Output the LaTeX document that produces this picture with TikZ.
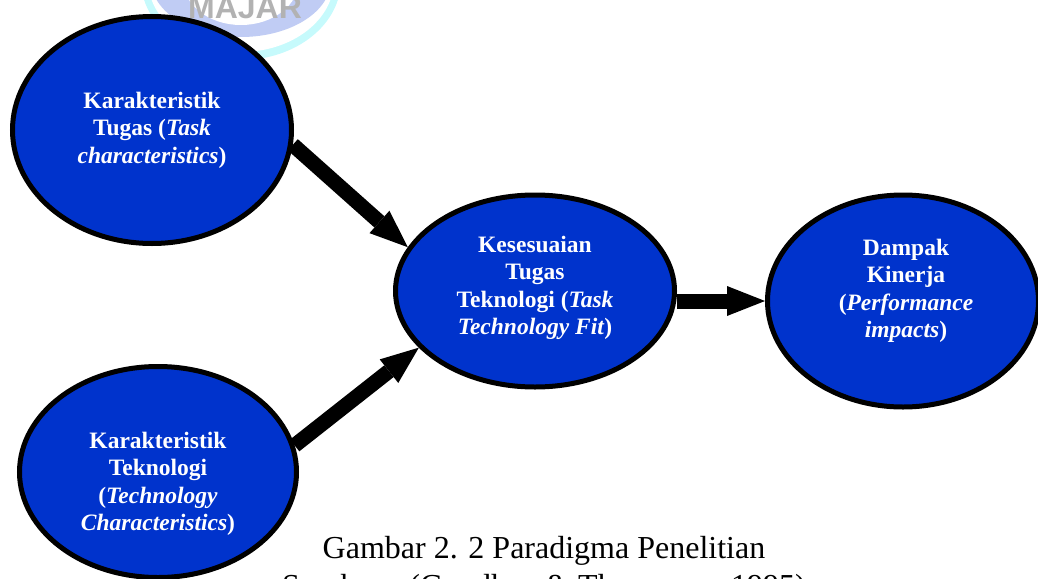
\documentclass[tikz,border=0pt]{standalone}
\usepackage{fontspec}
\setmainfont{Liberation Serif}
\setsansfont{Liberation Sans}
\usetikzlibrary{shapes.geometric,arrows.meta}
\definecolor{bubbleblue}{RGB}{0,51,204}
\definecolor{sealcyan}{RGB}{198,250,252}
\definecolor{sealblue}{RGB}{192,204,244}

\begin{document}
\begin{tikzpicture}[x=1pt,y=-1pt,
  bubble/.style={ellipse,draw=black,line width=5pt,fill=bubbleblue,inner sep=0pt},
  bubbletext/.style={text=white,align=center,font=\fontsize{23.5}{27.5}\selectfont\bfseries},
  blockarrow/.style={line width=15pt,-{Triangle[length=38pt,width=30pt,line width=0pt]}}]
\useasboundingbox (0,0) rectangle (1038,578);
% watermark seal, cut by the top edge
\fill[sealcyan] (241,-20) ellipse [x radius=100,y radius=80];
\fill[white] (241,-20) ellipse [x radius=93,y radius=72];
\fill[sealblue] (241,-20) ellipse [x radius=90,y radius=57];
\fill[white] (241,-20) ellipse [x radius=58,y radius=45];
\node[anchor=base,text=gray!60,font=\fontsize{32}{32}\sffamily\bfseries] (seal) at (245,19) {MAJAR};

% the four ellipses
\node[bubble,minimum width=279pt,minimum height=227pt] (tugas) at (152,130) {};
\node[bubble,minimum width=277pt,minimum height=211pt] (teknologi) at (158,472) {};
\node[bubble,minimum width=279pt,minimum height=192pt] (fit) at (535,291) {};
\node[bubble,minimum width=271pt,minimum height=212pt] (dampak) at (903,301) {};

\node[bubbletext] (tugas-txt) at (tugas.center) {Karakteristik\\Tugas (\textit{Task}\\\textit{characteristics})};
\node[bubbletext] (teknologi-txt) at ([yshift=-12pt]teknologi.center) {Karakteristik\\Teknologi\\(\textit{Technology}\\\textit{Characteristics})};
\node[bubbletext] (fit-txt) at ([yshift=3pt]fit.center) {Kesesuaian\\Tugas\\Teknologi (\textit{Task}\\\textit{Technology Fit})};
\node[bubbletext] (dampak-txt) at ([xshift=3pt,yshift=10pt]dampak.center) {Dampak\\Kinerja\\(\textit{Performance}\\\textit{impacts})};

% arrows
\draw[blockarrow] (tugas.-6) -- (fit.161);
\draw[blockarrow] (teknologi.11) -- (fit.206);
\draw[blockarrow] (fit.east |- dampak.west) -- (dampak.west);

% caption
\node[anchor=base,font=\fontsize{32}{38}\selectfont] (caption) at (544,558) {Gambar 2. 2 Paradigma Penelitian};
\node[anchor=base,font=\fontsize{32}{38}\selectfont] (source) at (544,596) {Sumber : (Goodhue \& Thompson, 1995)};
\end{tikzpicture}
\end{document}
